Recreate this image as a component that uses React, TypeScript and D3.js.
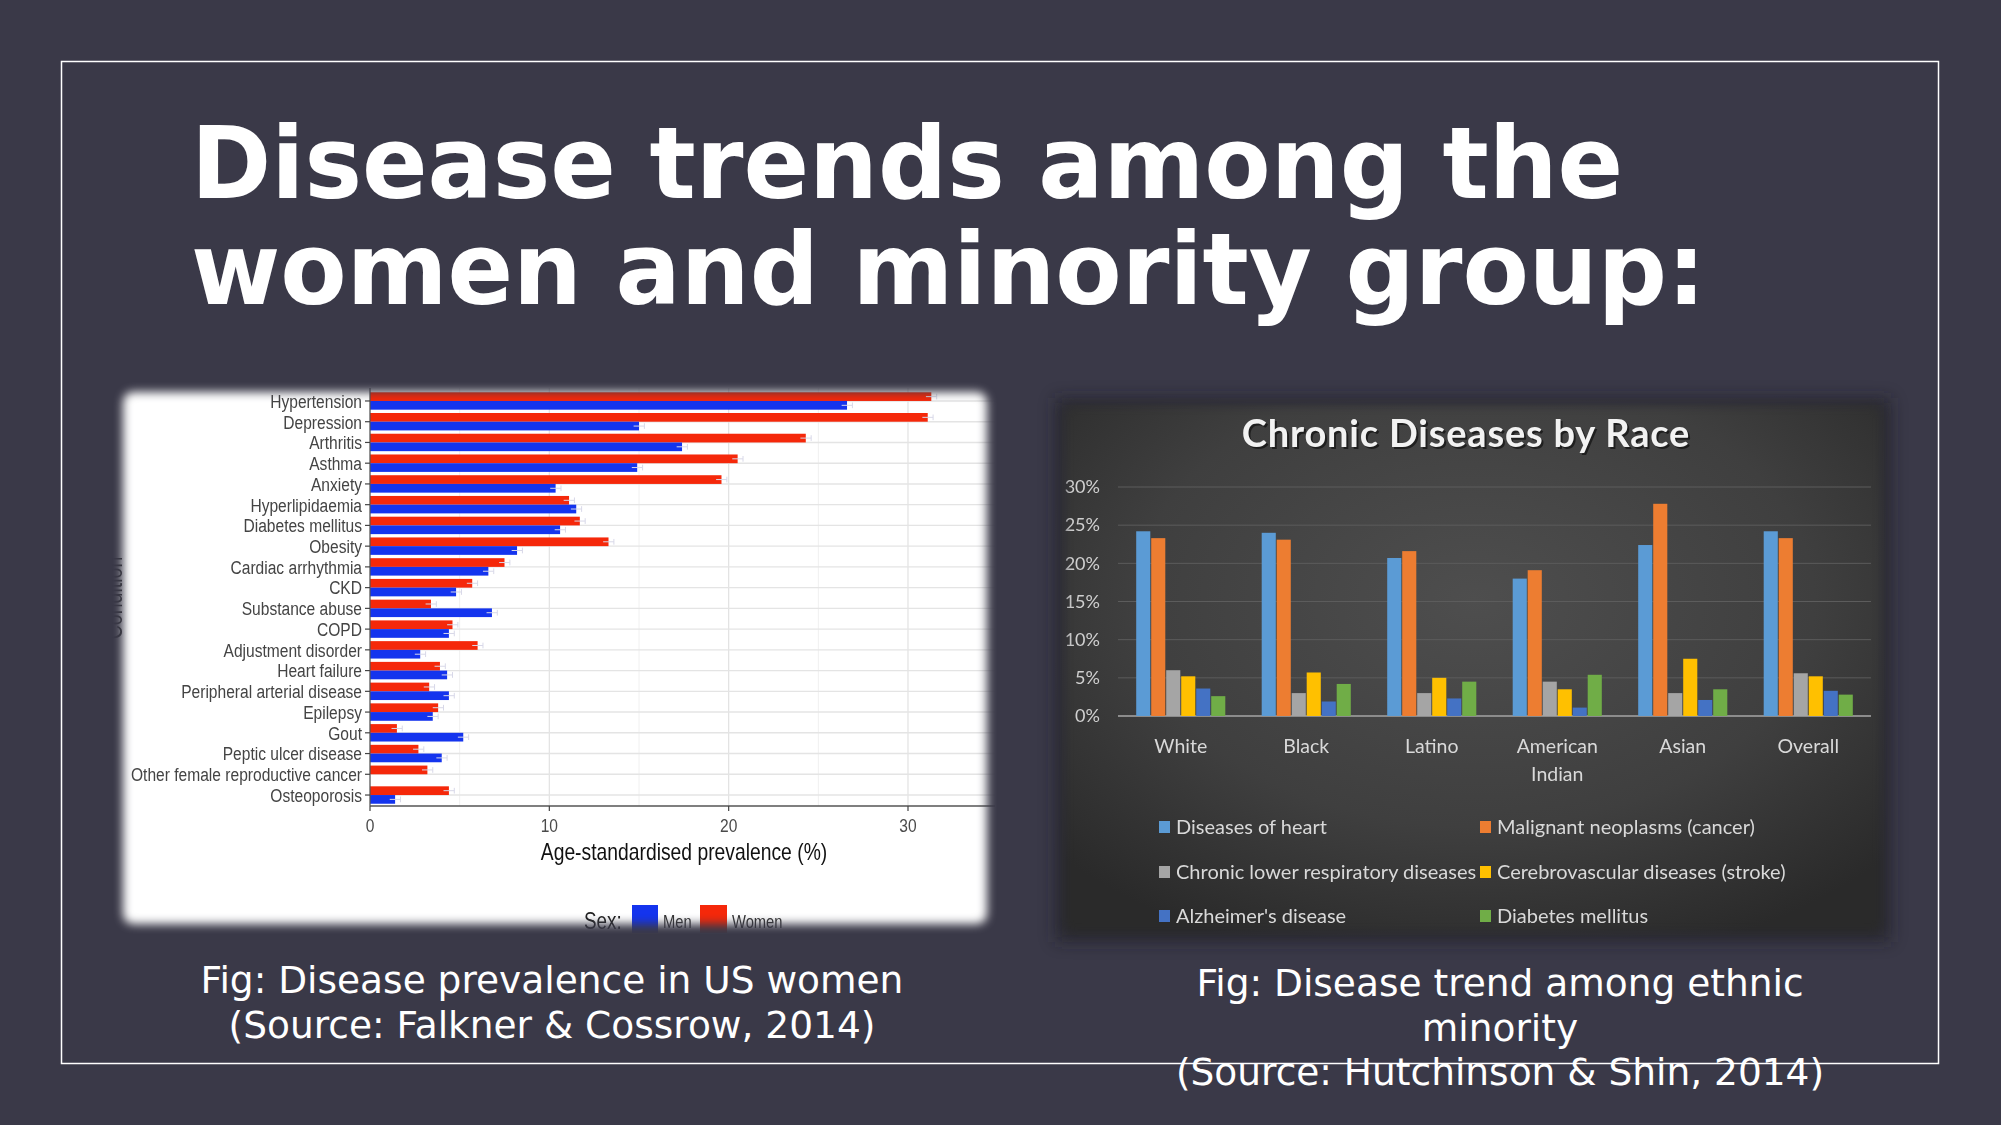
import React from "react";
import * as d3 from "d3";

// ---------- Left chart data (Falkner & Cossrow) ----------
const conditions = [
  "Hypertension", "Depression", "Arthritis", "Asthma", "Anxiety", "Hyperlipidaemia",
  "Diabetes mellitus", "Obesity", "Cardiac arrhythmia", "CKD", "Substance abuse", "COPD",
  "Adjustment disorder", "Heart failure", "Peripheral arterial disease", "Epilepsy", "Gout",
  "Peptic ulcer disease", "Other female reproductive cancer", "Osteoporosis",
];
const womenPrev = [31.3, 31.1, 24.3, 20.5, 19.6, 11.1, 11.7, 13.3, 7.5, 5.7, 3.4, 4.6, 6.0, 3.9, 3.3, 3.8, 1.5, 2.7, 3.2, 4.4];
const menPrev = [26.6, 15.0, 17.4, 14.9, 10.35, 11.5, 10.6, 8.2, 6.6, 4.8, 6.8, 4.4, 2.8, 4.3, 4.4, 3.5, 5.2, 4.0, 0, 1.4];
const sexes = ["Women", "Men"];
const prevTicks = [0, 10, 20, 30];
const prevMinor = [5, 15, 25];

// ---------- Right chart data (Hutchinson & Shin) ----------
const races = ["White", "Black", "Latino", "American Indian", "Asian", "Overall"];
const raceLabelLines = [["White"], ["Black"], ["Latino"], ["American", "Indian"], ["Asian"], ["Overall"]];
const diseases = [
  "Diseases of heart", "Malignant neoplasms (cancer)", "Chronic lower respiratory diseases",
  "Cerebrovascular diseases (stroke)", "Alzheimer's disease", "Diabetes mellitus",
];
const heart = [24.2, 24.0, 20.7, 18.0, 22.4, 24.2];
const cancer = [23.3, 23.1, 21.6, 19.1, 27.8, 23.3];
const respiratory = [6.0, 3.0, 3.0, 4.5, 3.0, 5.6];
const stroke = [5.2, 5.7, 5.0, 3.5, 7.5, 5.2];
const alzheimers = [3.6, 1.9, 2.3, 1.1, 2.1, 3.3];
const diabetes = [2.6, 4.2, 4.5, 5.4, 3.5, 2.8];
const pctTicks = [0, 5, 10, 15, 20, 25, 30];

const diseaseSeries = [heart, cancer, respiratory, stroke, alzheimers, diabetes];
const diseaseColors = ["#5B9BD5", "#ED7D31", "#A5A5A5", "#FFC000", "#4472C4", "#70AD47"];

const BG = "#3a3948";
const RED = "#F5280A";
const BLUE = "#1434EE";
const NARROW = "'Liberation Sans', Arial, sans-serif";
const CAL = "Lato, 'Open Sans', sans-serif";
const DJ = "'DejaVu Sans', Verdana, sans-serif";
const SQ = 0.82; // horizontal squeeze of the ggplot image text

function NText(props: { x: number; y: number; sx?: number; children: React.ReactNode; [k: string]: any }) {
  const { x, y, sx = SQ, children, ...rest } = props;
  return (
    <text transform={`translate(${x},${y}) scale(${sx},1)`} {...rest}>{children}</text>
  );
}

function LeftChart() {
  const x = d3.scaleLinear().domain([0, 30]).range([370, 908]);
  const y = d3.scaleBand<string>().domain(conditions).range([390.6, 805.4]).paddingInner(0.16).paddingOuter(0.08);
  const ySex = d3.scaleBand<string>().domain(sexes).range([0, y.bandwidth()]);
  const plotRight = 995;
  const axisY = 806;
  return (
    <g mask="url(#maskL)">
      <rect x={100} y={370} width={910} height={580} fill="#ffffff" />
      {prevMinor.map((t) => (
        <line key={"mn" + t} x1={x(t)} x2={x(t)} y1={388} y2={axisY} stroke="#f0f0f0" strokeWidth={1} />
      ))}
      {prevTicks.map((t) => (
        <line key={"mj" + t} x1={x(t)} x2={x(t)} y1={388} y2={axisY} stroke="#e2e2e2" strokeWidth={1.2} />
      ))}
      {conditions.map((c) => (
        <line key={"hg" + c} x1={x(0)} x2={plotRight} y1={y(c)! + y.bandwidth() / 2} y2={y(c)! + y.bandwidth() / 2} stroke="#e4e4e4" strokeWidth={1.4} />
      ))}
      {conditions.map((c, i) => {
        const vals = [womenPrev[i], menPrev[i]];
        return sexes.map((s, j) => {
          const v = vals[j];
          if (v <= 0) return null;
          const yy = y(c)! + ySex(s)!;
          const h = ySex.bandwidth();
          return (
            <g key={c + s}>
              <rect x={x(0)} y={yy} width={x(v) - x(0)} height={h} fill={j === 0 ? RED : BLUE} />
              <line x1={x(v - 0.3)} x2={x(v + 0.3)} y1={yy + h / 2} y2={yy + h / 2} stroke="#d8d8e8" strokeWidth={1} />
              <line x1={x(v + 0.3)} x2={x(v + 0.3)} y1={yy + 1.5} y2={yy + h - 1.5} stroke="#d8d8e8" strokeWidth={1} />
            </g>
          );
        });
      })}
      <line x1={x(0)} x2={x(0)} y1={388} y2={axisY} stroke="#555" strokeWidth={1.2} />
      <line x1={x(0)} x2={plotRight} y1={axisY} y2={axisY} stroke="#555" strokeWidth={1.4} />
      {conditions.map((c) => {
        const cy = y(c)! + y.bandwidth() / 2;
        return (
          <g key={"lab" + c}>
            <line x1={x(0) - 5} x2={x(0)} y1={cy} y2={cy} stroke="#444" strokeWidth={1.2} />
            <NText x={x(0) - 8} y={cy} dy="0.36em" textAnchor="end" fontFamily={NARROW} fontSize={19} fill="#444">{c}</NText>
          </g>
        );
      })}
      {prevTicks.map((t) => (
        <g key={"xt" + t}>
          <line x1={x(t)} x2={x(t)} y1={axisY} y2={axisY + 5} stroke="#444" strokeWidth={1.2} />
          <NText x={x(t)} y={axisY + 26} textAnchor="middle" fontFamily={NARROW} fontSize={19} fill="#4a4a4a">{t}</NText>
        </g>
      ))}
      <NText x={684} y={860} sx={0.84} textAnchor="middle" fontFamily={NARROW} fontSize={23} fill="#111">Age-standardised prevalence (%)</NText>
      <text transform="translate(122,598) rotate(-90) scale(0.85,1)" textAnchor="middle" fontFamily={NARROW} fontSize={23} fill="#333">Condition</text>
      <NText x={584} y={929} fontFamily={NARROW} fontSize={23} fill="#222">Sex:</NText>
      <rect x={632} y={905} width={26} height={28} fill={BLUE} />
      <NText x={663} y={928} fontFamily={NARROW} fontSize={18} fill="#333">Men</NText>
      <rect x={700} y={905} width={27} height={28} fill={RED} />
      <NText x={732} y={928} fontFamily={NARROW} fontSize={18} fill="#333">Women</NText>
    </g>
  );
}

function RightChart() {
  const x0 = d3.scaleBand<string>().domain(races).range([1118, 1871]).paddingInner(0.29).paddingOuter(0.145);
  const x1 = d3.scaleBand<string>().domain(diseases).range([0, x0.bandwidth()]).paddingInner(0.06);
  const y = d3.scaleLinear().domain([0, 30]).range([716, 487]);
  const legendRows = [827, 872, 916];
  const legendCols = [1159, 1480];
  return (
    <g>
      <rect x={1055} y={398} width={836} height={544} fill="#1f1f24" opacity={0.55} filter="url(#blur8)" />
      <g mask="url(#maskR)">
        <rect x={1040} y={380} width={870} height={580} fill="url(#panelGrad)" />
        {pctTicks.map((t) => (
          <line key={"g" + t} x1={1118} x2={1871} y1={y(t)} y2={y(t)} stroke={t === 0 ? "#8c8c8c" : "#5c5c5c"} strokeWidth={t === 0 ? 2 : 1} />
        ))}
        {pctTicks.map((t) => (
          <text key={"t" + t} x={1100} y={y(t)} dy="0.35em" textAnchor="end" fontFamily={CAL} fontSize={18} fill="#d0d0d0">{t}%</text>
        ))}
        {races.map((r, i) => (
          <g key={r}>
            {diseases.map((d, j) => {
              const v = diseaseSeries[j][i];
              return <rect key={d} x={x0(r)! + x1(d)!} y={y(v)} width={x1.bandwidth()} height={y(0) - y(v)} fill={diseaseColors[j]} />;
            })}
            {raceLabelLines[i].map((line, k) => (
              <text key={line} x={x0(r)! + x0.bandwidth() / 2} y={753 + k * 28} textAnchor="middle" fontFamily={CAL} fontSize={19.5} fill="#d9d9d9">{line}</text>
            ))}
          </g>
        ))}
        <text x={1468} y={449} textAnchor="middle" fontFamily={CAL} fontWeight={700} fontSize={38} letterSpacing={0.8} fill="#111" opacity={0.7}>Chronic Diseases by Race</text>
        <text x={1466} y={447} textAnchor="middle" fontFamily={CAL} fontWeight={700} fontSize={38} letterSpacing={0.8} fill="#f2f2f2">Chronic Diseases by Race</text>
        {diseases.map((d, j) => {
          const cx = legendCols[j % 2];
          const cy = legendRows[Math.floor(j / 2)];
          return (
            <g key={"lg" + d}>
              <rect x={cx} y={cy - 6} width={11} height={12} fill={diseaseColors[j]} />
              <text x={cx + 17} y={cy} dy="0.35em" fontFamily={CAL} fontSize={20} fill="#d9d9d9">{d}</text>
            </g>
          );
        })}
      </g>
    </g>
  );
}

export default function App() {
  return (
    <svg width={2001} height={1125} style={{ position: "absolute", left: 0, top: 0, display: "block" }}>
      <defs>
        <filter id="blur5" x="-10%" y="-10%" width="120%" height="120%">
          <feGaussianBlur stdDeviation={5} />
        </filter>
        <filter id="blur8" x="-10%" y="-10%" width="120%" height="120%">
          <feGaussianBlur stdDeviation={8} />
        </filter>
        <mask id="maskL" maskUnits="userSpaceOnUse" x={0} y={0} width={2001} height={1125}>
          <rect x={123} y={392} width={864} height={532} rx={10} fill="#fff" filter="url(#blur5)" />
        </mask>
        <mask id="maskR" maskUnits="userSpaceOnUse" x={0} y={0} width={2001} height={1125}>
          <rect x={1064} y={405} width={818} height={528} rx={8} fill="#fff" filter="url(#blur5)" />
        </mask>
        <radialGradient id="panelGrad" cx="50%" cy="38%" r="65%">
          <stop offset="0%" stopColor="#4e4e4e" />
          <stop offset="60%" stopColor="#3f3f3f" />
          <stop offset="100%" stopColor="#2a2a2a" />
        </radialGradient>
      </defs>
      <rect x={0} y={0} width={2001} height={1125} fill={BG} />
      <rect x={61.5} y={61.5} width={1877} height={1002} fill="none" stroke="#ffffff" strokeWidth={1.5} />
      <text transform="translate(191,0) scale(0.967,1)" fontFamily={DJ} fontWeight={700} fontSize={100} fill="#ffffff">
        <tspan x={0} y={198}>Disease trends among the</tspan>
        <tspan x={0} y={304}>women and minority group:</tspan>
      </text>
      <LeftChart />
      <RightChart />
      <text fontFamily={DJ} fontSize={37.5} fill="#ffffff" textAnchor="middle">
        <tspan x={552} y={993}>Fig: Disease prevalence in US women</tspan>
        <tspan x={552} y={1038}>(Source: Falkner &amp; Cossrow, 2014)</tspan>
      </text>
      <text fontFamily={DJ} fontSize={37.5} fill="#ffffff" textAnchor="middle">
        <tspan x={1500} y={996}>Fig: Disease trend among ethnic</tspan>
        <tspan x={1500} y={1041}>minority</tspan>
        <tspan x={1500} y={1085}>(Source: Hutchinson &amp; Shin, 2014)</tspan>
      </text>
    </svg>
  );
}
